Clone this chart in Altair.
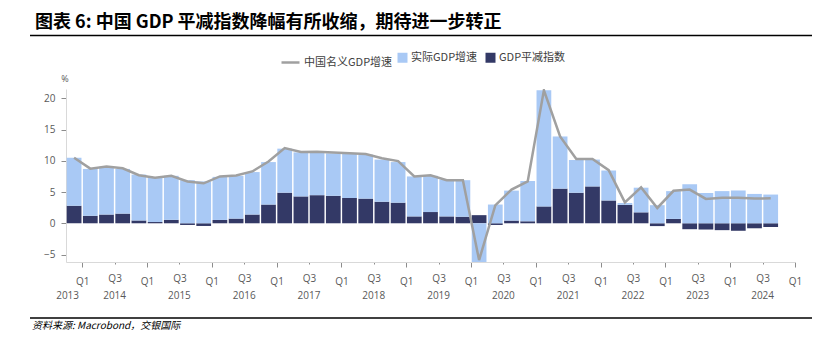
import altair as alt
import pandas as pd

# ---------------- data (2013Q4 .. 2024Q3) ----------------
quarters = [f"{y}Q{q}" for y in range(2013, 2025) for q in range(1, 5)][3:-1]
real_gdp = [7.7, 7.5, 7.65, 7.15, 7.35, 7.2, 7.05, 6.9, 6.7, 6.9, 6.85, 6.8, 6.8, 7.05, 7.05,
            6.85, 6.8, 7.05, 7.05, 6.75, 6.5, 6.4, 5.8, 5.9, 5.85, -6.9, 3.0, 4.8, 6.45, 18.6,
            8.35, 5.25, 4.3, 4.8, 0.3, 3.95, 2.9, 4.45, 6.25, 4.85, 5.15, 5.25, 4.7, 4.6]
deflator = [2.8, 1.2, 1.4, 1.55, 0.45, 0.2, 0.55, -0.27, -0.43, 0.53, 0.75, 1.4, 3.0, 4.9, 4.3,
            4.5, 4.4, 4.05, 3.95, 3.45, 3.3, 1.1, 1.8, 1.1, 1.05, 1.3, -0.27, 0.43, 0.32, 2.7,
            5.55, 4.9, 5.9, 3.65, 2.95, 1.75, -0.45, 0.7, -0.95, -1.0, -1.1, -1.2, -0.8, -0.6]
nominal = [10.5, 8.75, 9.1, 8.8, 7.7, 7.3, 7.6, 6.7, 6.4, 7.5, 7.65, 8.3, 9.9, 12.05, 11.4,
           11.45, 11.35, 11.2, 11.1, 10.4, 9.95, 7.5, 7.7, 6.9, 6.9, -5.9, 2.85, 5.4, 6.7, 21.3,
           13.9, 10.3, 10.3, 8.5, 3.35, 5.75, 2.45, 5.2, 5.4, 3.9, 4.1, 4.1, 3.95, 4.0]
years = list(range(2013, 2025))

S_LINE = "中国名义GDP增速"
S_REAL = "实际GDP增速"
S_DEFL = "GDP平减指数"
TITLE = "图表 6: 中国 GDP 平减指数降幅有所收缩，期待进一步转正"
SOURCE = "资料来源: Macrobond，交银国际"

C_LINE = "#A0A0A0"
C_REAL = "#A9C9F5"
C_DEFL = "#333966"

# ---------------- tables ----------------
gap = 0.045
rows = []
for i, (q, r, d) in enumerate(zip(quarters, real_gdp, deflator)):
    rows.append({"q": q, "series": S_DEFL, "x0": i + gap, "x1": i + 1 - gap, "y0": 0.0, "y1": d})
    base = d if (d > 0 and r > 0) else 0.0
    rows.append({"q": q, "series": S_REAL, "x0": i + gap, "x1": i + 1 - gap, "y0": base, "y1": base + r})
bars_df = pd.DataFrame(rows)

line_df = pd.DataFrame({"q": quarters, "xm": [i + 0.5 for i in range(len(quarters))],
                        "v": nominal, "name": S_LINE})

year_df = pd.DataFrame({"year": [str(y) for y in years],
                        "xy": [max(4 * (y - 2014) + 3, 0.1) for y in years]})

W, H = 729, 173
xscale = alt.Scale(domain=[0, 45], nice=False, zero=False)
yscale = alt.Scale(domain=[-6.2, 21.5], nice=False, zero=False)

FONT = "Open Sans"
CJK = "Noto Sans CJK SC"

x_axis = alt.Axis(values=list(range(1, 46, 2)),
                  labelExpr="datum.value % 4 == 1 ? 'Q1' : 'Q3'",
                  tickSize={"condition": {"test": "datum.value % 4 == 1", "value": 5}, "value": 2},
                  title=None, grid=False, labelFont=FONT, labelFontSize=10, labelColor="#595959",
                  domainColor="#D9D9D9", tickColor="#8C8C8C", labelPadding=9, labelFlush=False,
                  labelOverlap=False)
y_axis = alt.Axis(values=[-5, 0, 5, 10, 15, 20], title=None, grid=False, tickSize=5,
                  labelFont=FONT, labelFontSize=10, labelColor="#595959", labelPadding=6,
                  domainColor="#D9D9D9", tickColor="#8C8C8C", labelOverlap=False)

bars = alt.Chart(bars_df).mark_bar(clip=True).encode(
    x=alt.X("x0:Q", scale=xscale, axis=x_axis),
    x2="x1:Q",
    y=alt.Y("y0:Q", scale=yscale, axis=y_axis),
    y2="y1:Q",
    fill=alt.Fill("series:N", sort=None,
                  scale=alt.Scale(domain=[S_REAL, S_DEFL], range=[C_REAL, C_DEFL]),
                  legend=alt.Legend(orient="none", legendX=331, legendY=-37, direction="horizontal",
                                    title=None, labelFont=CJK, labelFontSize=11, labelColor="#404040",
                                    symbolType="square", symbolSize=100, symbolStrokeWidth=0,
                                    labelOffset=3, columnPadding=7, padding=0)),
)

line = alt.Chart(line_df).mark_line(strokeWidth=2.5, clip=True).encode(
    x=alt.X("xm:Q", scale=xscale, axis=x_axis),
    y=alt.Y("v:Q", scale=yscale, axis=y_axis),
    stroke=alt.Stroke("name:N", scale=alt.Scale(domain=[S_LINE], range=[C_LINE]),
                      legend=alt.Legend(orient="none", legendX=214, legendY=-37, direction="horizontal",
                                        title=None, labelFont=CJK, labelFontSize=11, labelColor="#404040",
                                        symbolType="stroke", symbolSize=324, symbolStrokeWidth=2.5,
                                        labelOffset=3, padding=0)),
)

year_text = alt.Chart(year_df).mark_text(font=FONT, fontSize=10, color="#595959",
                                         baseline="middle", align="center").encode(
    x=alt.X("xy:Q", scale=xscale, axis=x_axis), y=alt.value(H + 34), text="year:N")

one = pd.DataFrame({"t": [TITLE]})
title = alt.Chart(one).mark_text(font=CJK, fontSize=18, fontWeight="bold", color="#000000",
                                 align="left", baseline="middle").encode(
    x=alt.value(-31), y=alt.value(-66), text="t:N")

rule_top = alt.Chart(pd.DataFrame({"r": [1]})).mark_rule(color="#000000", strokeWidth=1.5).encode(
    x=alt.value(-36), x2=alt.value(746), y=alt.value(-53.5))
rule_bot = alt.Chart(pd.DataFrame({"r": [1]})).mark_rule(color="#000000", strokeWidth=1.5).encode(
    x=alt.value(-36), x2=alt.value(746), y=alt.value(H + 56))

src = alt.Chart(pd.DataFrame({"t": [SOURCE]})).mark_text(
    font=CJK, fontSize=10, fontStyle="italic", color="#000000", align="left", baseline="middle").encode(
    x=alt.value(-34), y=alt.value(H + 64), text="t:N")

pct = alt.Chart(pd.DataFrame({"t": ["%"]})).mark_text(
    font=FONT, fontSize=9, color="#595959", align="center", baseline="middle").encode(
    x=alt.value(-1), y=alt.value(-10), text="t:N")

chart = alt.layer(bars, line, year_text, title, rule_top, rule_bot, src, pct).properties(
    width=W, height=H,
    autosize=alt.AutoSizeParams(type="none"),
    padding={"left": 66, "top": 89, "right": 22, "bottom": 90},
).configure(background="white").configure_view(stroke=None).configure_axis(labelOverlap=False)

chart.save("out.html", embed_options={"renderer": "svg", "actions": False})
